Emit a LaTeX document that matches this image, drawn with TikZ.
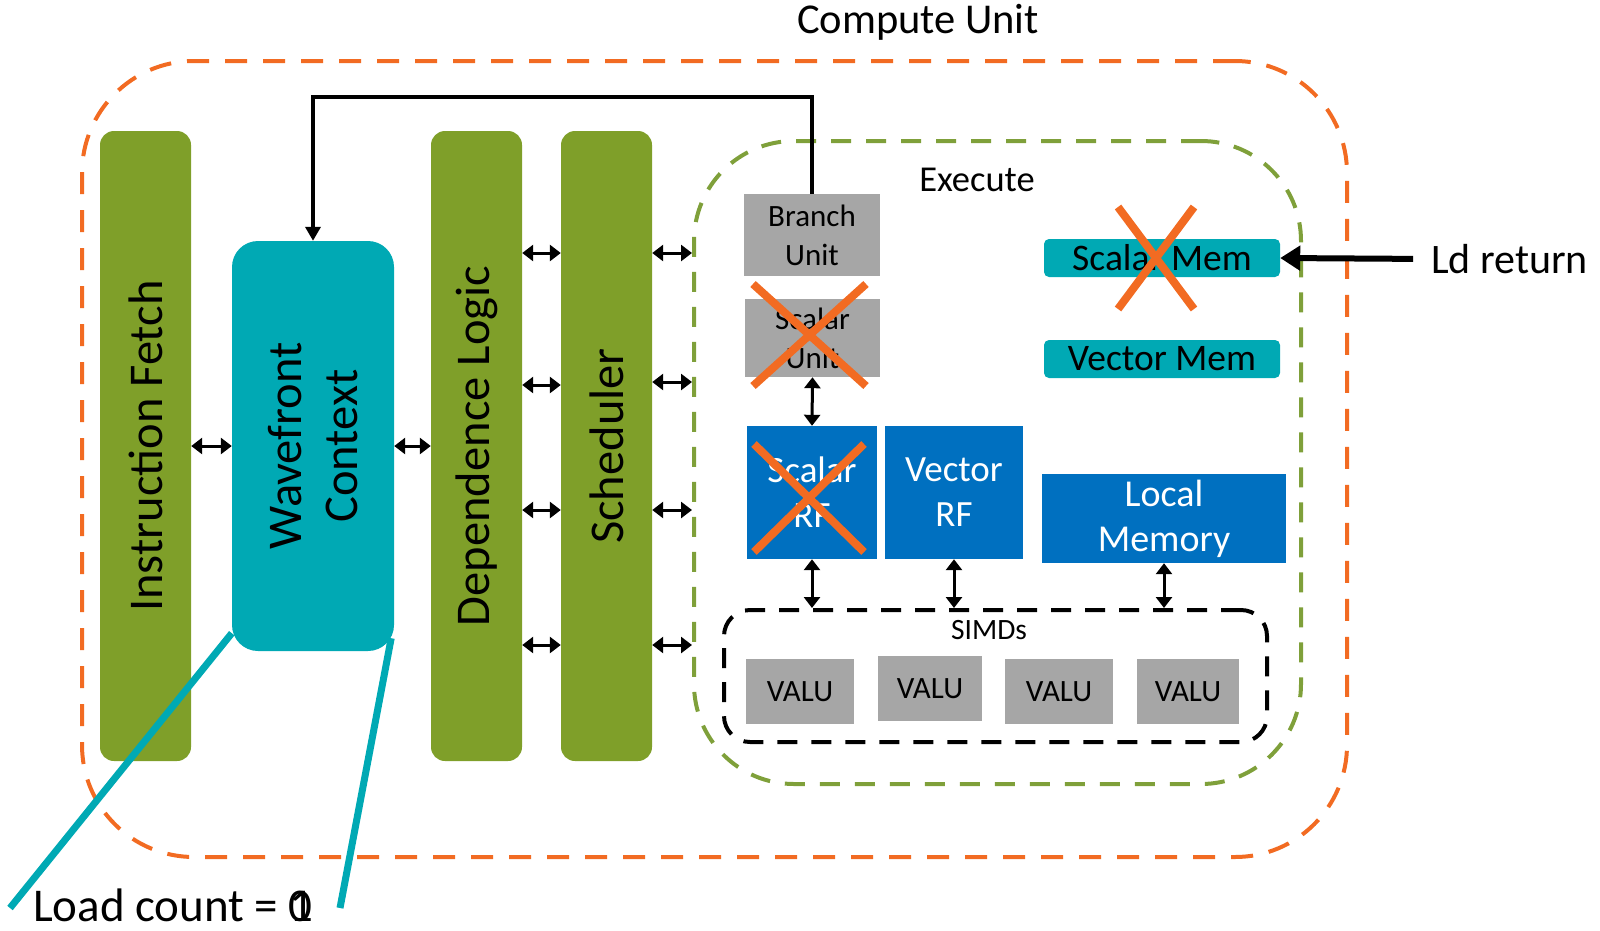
\documentclass[tikz,border=0pt]{standalone}
\usepackage{fontspec}
\setmainfont{Carlito}
\usetikzlibrary{arrows.meta}
\definecolor{cuorange}{HTML}{F26B22}
\definecolor{olivebar}{HTML}{7F9F29}
\definecolor{wfteal}{HTML}{00A9B4}
\definecolor{rfblue}{HTML}{0070C0}
\definecolor{unitgray}{HTML}{A6A6A6}
\definecolor{execgreen}{HTML}{7FA03A}
\tikzset{
  bar/.style={fill=olivebar,rounded corners=14pt,minimum width=91pt,minimum height=630pt,inner sep=0pt},
  barlabel/.style={rotate=90,font=\fontsize{48.5}{56}\selectfont,align=center},
  unitbox/.style={fill=unitgray,inner sep=0pt,align=center,font=\fontsize{31}{39}\selectfont},
  rfbox/.style={fill=rfblue,text=white,inner sep=0pt,align=center,font=\fontsize{37}{45}\selectfont},
  membox/.style={fill=wfteal,rounded corners=5pt,minimum width=236pt,minimum height=38pt,inner sep=0pt,font=\fontsize{37.5}{40}\selectfont},
  valu/.style={fill=unitgray,minimum height=65pt,inner sep=0pt,font=\fontsize{31}{34}\selectfont},
  dbl/.style={{Triangle[length=11pt,width=16pt]}-{Triangle[length=11pt,width=16pt]},line width=3pt},
  crossout/.style={cuorange,line width=8pt},
  tealline/.style={wfteal,line width=7pt}
}
\begin{document}
\begin{tikzpicture}[x=1pt,y=-1pt]
\useasboundingbox (0,0) rectangle (1600,930);
% outer compute unit
\node[draw=cuorange,line width=4pt,dash pattern=on 22pt off 16pt,rounded corners=112pt,
      minimum width=1265pt,minimum height=796pt] (cu) at (714.5,459) {};
\node[font=\fontsize{42.5}{46}\selectfont] (cutitle) at (918,22) {Compute Unit};
% front end bars
\node[bar] (ifetch) at (145.5,446) {};
\node[barlabel] (ifetchtxt) at (ifetch.center) {Instruction Fetch};
\node[fill=wfteal,rounded corners=26pt,minimum width=162pt,minimum height=410pt] (wc) at (313,446) {};
\node[barlabel] (wctxt) at (wc.center) {Wavefront\\Context};
\node[bar] (dep) at (476.5,446) {};
\node[barlabel] (deptxt) at (dep.center) {Dependence Logic};
\node[bar] (sched) at (606.5,446) {};
\node[barlabel] (schedtxt) at (sched.center) {Scheduler};
% execute stage
\node[draw=execgreen,line width=4pt,dash pattern=on 20pt off 15pt,rounded corners=100pt,
      minimum width=607pt,minimum height=643pt] (exec) at (997.5,462.5) {};
\node[font=\fontsize{36.5}{40}\selectfont] (exectxt) at (977,180) {Execute};
\node[unitbox,minimum width=136pt,minimum height=82pt] (branch) at (812,235) {Branch\\Unit};
\node[unitbox,minimum width=135pt,minimum height=78pt] (sunit) at (812.5,338) {Scalar\\Unit};
\node[rfbox,minimum width=130pt,minimum height=133pt] (srf) at (812,492.5) {Scalar\\RF};
\node[rfbox,minimum width=138pt,minimum height=133pt] (vrf) at (954,492.5) {Vector\\RF};
\node[rfbox,minimum width=244pt,minimum height=89pt,font=\fontsize{38}{45}\selectfont] (lmem) at (1164,518.5) {Local\\Memory};
\node[membox] (smem) at (1162,258) {Scalar Mem};
\node[membox] (vmem) at (1162,359) {Vector Mem};
% SIMDs
\node[draw=black,line width=4pt,dash pattern=on 20pt off 14pt,rounded corners=26pt,
      minimum width=543pt,minimum height=132pt] (simd) at (995.5,676) {};
\node[font=\fontsize{29.5}{32}\selectfont] (simdtxt) at (989,630) {SIMDs};
\node[valu,minimum width=108pt] (valua) at (800,691.5) {VALU};
\node[valu,minimum width=104pt] (valub) at (930,688.5) {VALU};
\node[valu,minimum width=108pt] (valuc) at (1059,691.5) {VALU};
\node[valu,minimum width=102pt] (valud) at (1188,691.5) {VALU};
% connectors
\draw[dbl] (ifetch.east) -- (wc.west);
\draw[dbl] (wc.east) -- (dep.west);
\foreach \yy in {253,385,510,645}
  \draw[dbl] (dep.east |- 0,\yy) -- (sched.west |- 0,\yy);
\foreach \yy in {253,382,510,645}
  \draw[dbl] (sched.east |- 0,\yy) -- (exec.west |- 0,\yy);
\draw[dbl] (sunit.south) -- (srf.north);
\draw[dbl] (srf.south) -- (srf.south |- simd.north);
\draw[dbl] (vrf.south) -- (vrf.south |- simd.north);
\draw[dbl] (lmem.south) -- (lmem.south |- simd.north);
\draw[line width=3.5pt,-{Triangle[length=14pt,width=15pt]}] (branch.north) -- (branch.north |- 0,97) -| (wc.north);
\node[anchor=west,inner xsep=0pt,font=\fontsize{42}{45}\selectfont] (ldret) at (1431,259) {Ld return};
\draw[line width=6pt,-{Triangle[length=20pt,width=24pt]},shorten <=18pt] (ldret.west) -- (smem.east);
% crossed out parts
\draw[crossout] (753,284) -- (866,386) (753,386) -- (866,284);
\draw[crossout] (754,444) -- (864,552) (754,552) -- (864,444);
\draw[crossout] (1118,207) -- (1194,309) (1118,309) -- (1194,207);
% load count callout
\node[font=\fontsize{47}{50}\selectfont] (ldcount) at (173,905) {Load count = \rlap{0}1};
\coordinate (lcleft) at (10,908);
\coordinate (lcright) at (340,908);
\draw[tealline] ([yshift=18pt]wc.south west) -- (lcleft);
\draw[tealline] ([xshift=-3pt,yshift=13pt]wc.south east) -- (lcright);
\end{tikzpicture}
\end{document}
